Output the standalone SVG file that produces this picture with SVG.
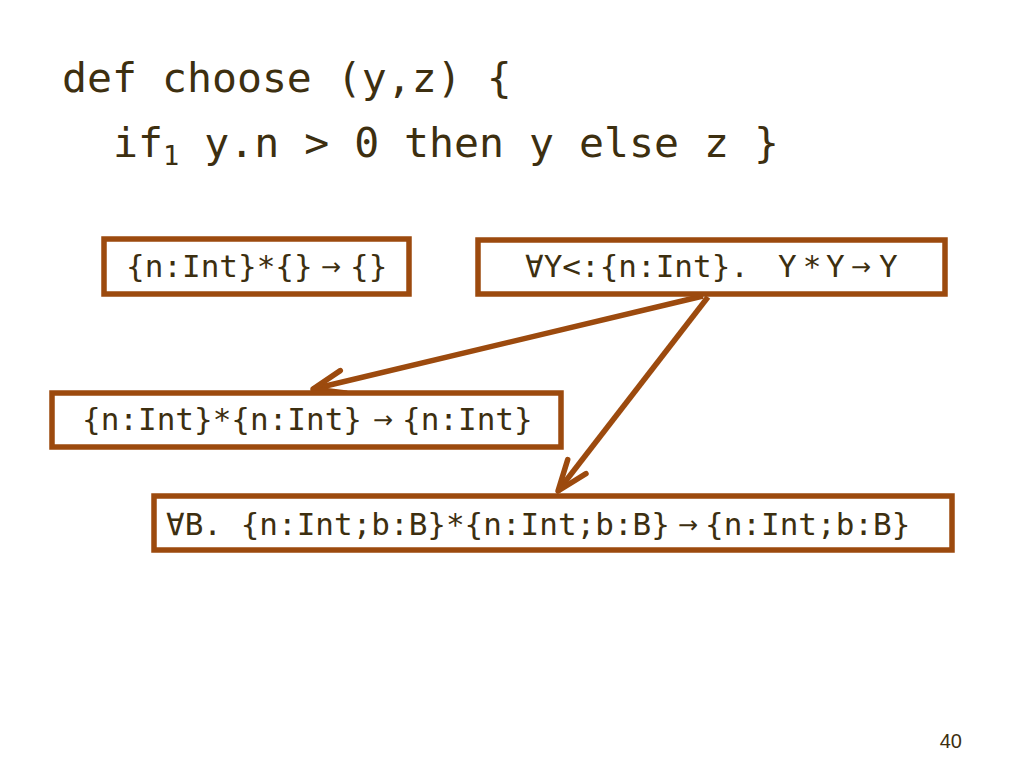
<svg xmlns="http://www.w3.org/2000/svg" width="1024" height="768" viewBox="0 0 1024 768">
<style>
.code{font-family:"DejaVu Sans Mono","Liberation Mono",monospace;fill:#3d2f10;}
.title{font-size:41.5px;}
.lbl{font-size:31px;}
.arw{font-family:"DejaVu Sans","Liberation Sans",sans-serif;font-size:24px;fill:#3d2f10;}
.box{fill:#ffffff;stroke:#9c4a0e;stroke-width:5.5;}
.edge{stroke:#9c4a0e;stroke-width:5.5;fill:none;marker-end:url(#vhead);}
</style>
<defs>
<marker id="vhead" markerUnits="strokeWidth" viewBox="-7 -3 8 6" refX="0" refY="0" markerWidth="8" markerHeight="6" orient="auto" overflow="visible">
<path d="M -5.6,-2.1 L 0,0 L -5.6,2.1" fill="none" stroke="#9c4a0e" stroke-width="1" stroke-linecap="round" stroke-linejoin="round"/>
</marker>
</defs>
<rect width="1024" height="768" fill="#ffffff"/>
<g id="code">
<text class="code title" x="62" y="92">def choose (y,z) {</text>
<text class="code title" x="113" y="157">if<tspan font-size="27" dy="8">1</tspan><tspan dy="-8"> y.n &gt; 0 then y else z }</tspan></text>
</g>
<g id="connectors">
<line class="edge" x1="703" y1="296" x2="313" y2="389"/>
<line class="edge" x1="708" y1="297" x2="558" y2="491"/>
</g>
<g id="node1">
<rect class="box" x="104" y="239" width="305" height="55"/>
<text class="code lbl" x="126" y="277">{n:Int}*{}</text>
<text class="arw" x="331" y="275" text-anchor="middle">→</text>
<text class="code lbl" x="350" y="277">{}</text>
</g>
<g id="node2">
<rect class="box" x="478" y="240" width="467" height="54"/>
<text class="code lbl" x="525" y="277">∀Y&lt;:{n:Int}.</text>
<text class="code lbl" x="778" y="277">Y</text>
<text class="code lbl" x="812" y="277" text-anchor="middle">*</text>
<text class="code lbl" x="826" y="277">Y</text>
<text class="arw" x="861" y="275" text-anchor="middle">→</text>
<text class="code lbl" x="879" y="277">Y</text>
</g>
<g id="node3">
<rect class="box" x="52" y="393" width="509" height="54"/>
<text class="code lbl" x="82" y="430">{n:Int}*{n:Int}</text>
<text class="arw" x="383" y="428" text-anchor="middle">→</text>
<text class="code lbl" x="402" y="430">{n:Int}</text>
</g>
<g id="node4">
<rect class="box" x="154" y="496" width="798" height="54"/>
<text class="code lbl" x="166" y="535">∀B. {n:Int;b:B}*{n:Int;b:B}</text>
<text class="arw" x="688" y="533" text-anchor="middle">→</text>
<text class="code lbl" x="705" y="535">{n:Int;b:B}</text>
</g>
<text x="962" y="748" text-anchor="end" font-family="Liberation Sans, Arial, sans-serif" font-size="20" fill="#3d2f10">40</text>
</svg>
